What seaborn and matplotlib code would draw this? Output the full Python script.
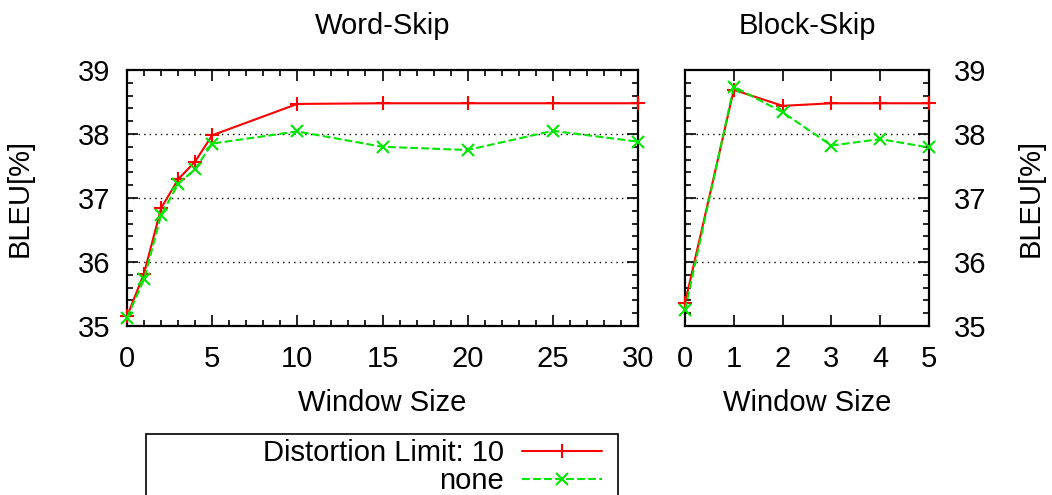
import matplotlib
matplotlib.use("Agg")
import matplotlib.pyplot as plt
import seaborn as sns
import pandas as pd
from matplotlib.patches import Rectangle
from matplotlib.ticker import MultipleLocator

ws_word = [0, 1, 2, 3, 4, 5, 10, 15, 20, 25, 30]
word_dl10 = [35.15, 35.82, 36.84, 37.29, 37.57, 37.98, 38.47, 38.48, 38.48, 38.48, 38.48]
word_none = [35.13, 35.73, 36.73, 37.22, 37.45, 37.85, 38.04, 37.80, 37.75, 38.05, 37.88]
ws_block = [0, 1, 2, 3, 4, 5]
block_dl10 = [35.36, 38.69, 38.44, 38.48, 38.48, 38.48]
block_none = [35.25, 38.74, 38.34, 37.82, 37.92, 37.79]
series_labels = ["Distortion Limit: 10", "none"]
titles = ["Word-Skip", "Block-Skip"]
y_ticks = [35, 36, 37, 38, 39]

FS = 21
sns.set_style("white")
plt.rcParams["font.family"] = ["Liberation Sans", "DejaVu Sans"]
plt.rcParams["font.size"] = FS
for k in ["text.color", "axes.labelcolor", "xtick.color", "ytick.color", "axes.edgecolor"]:
    plt.rcParams[k] = "black"

fig = plt.figure(figsize=(10.52, 4.95), dpi=100)
ax1 = fig.add_axes([127/1052, 1-326/495, (638-127)/1052, (326-70)/495])
ax2 = fig.add_axes([685/1052, 1-326/495, (929-685)/1052, (326-70)/495])

RED = "#ff0000"
GREEN = "#00e600"

def draw(ax, xs, y1, y2):
    d1 = pd.DataFrame({"x": xs, "y": y1})
    d2 = pd.DataFrame({"x": xs, "y": y2})
    sns.lineplot(data=d1, x="x", y="y", ax=ax, color=RED, marker="+", markersize=10,
                 markeredgewidth=1.5, markeredgecolor=RED, linewidth=1.5,
                 label=series_labels[0], zorder=3, clip_on=False)
    sns.lineplot(data=d2, x="x", y="y", ax=ax, color=GREEN, marker="x", markersize=8,
                 markeredgewidth=1.5, markeredgecolor=GREEN, linewidth=1.5,
                 linestyle="--", dashes=(4, 2), label=series_labels[1], zorder=4,
                 clip_on=False)
    ax.set_ylim(35, 39)
    ax.set_yticks(y_ticks)
    ax.yaxis.set_minor_locator(MultipleLocator(0.2))
    for yv in y_ticks[1:-1]:
        ax.axhline(yv, color="black", linestyle=(0, (1, 3)), linewidth=1.0, zorder=1)
    ax.tick_params(which="both", direction="in", top=True, bottom=True, left=True, right=True,
                   labelsize=FS, width=1.2, colors="black")
    ax.tick_params(which="major", length=8)
    ax.tick_params(which="minor", length=4)
    ax.tick_params(axis="x", which="major", pad=14)
    for s in ax.spines.values():
        s.set_linewidth(1.6)
        s.set_color("black")
    ax.set_xlabel("Window Size", fontsize=FS, labelpad=11)
    if ax.legend_:
        ax.legend_.remove()

draw(ax1, ws_word, word_dl10, word_none)
ax1.set_xlim(0, 30)
ax1.set_xticks([0, 5, 10, 15, 20, 25, 30])
ax1.xaxis.set_minor_locator(MultipleLocator(1))
ax1.tick_params(axis="y", which="major", pad=12)
ax1.set_ylabel("BLEU[%]", fontsize=FS, labelpad=32)
ax1.set_title(titles[0], fontsize=FS, pad=26)

draw(ax2, ws_block, block_dl10, block_none)
ax2.set_xlim(0, 5)
ax2.set_xticks(ws_block)
ax2.yaxis.tick_right()
ax2.yaxis.set_ticks_position("both")
ax2.tick_params(axis="y", which="both", labelleft=False, labelright=True)
ax2.tick_params(axis="y", which="major", pad=18)
ax2.yaxis.set_label_position("right")
ax2.set_ylabel("BLEU[%]", fontsize=FS, labelpad=22)
ax2.set_title(titles[1], fontsize=FS, pad=26)

handles, labels = ax1.get_legend_handles_labels()
fig.patches.append(Rectangle((146/1052, -0.05), (618-146)/1052, 0.05 + 1-434/495,
                             transform=fig.transFigure, fill=False, edgecolor="black",
                             linewidth=1.2, figure=fig))
fig.legend(handles, labels, loc="upper right", bbox_to_anchor=(602/1052, 1-439/495),
           frameon=False, markerfirst=False, fontsize=FS, handlelength=2.75,
           labelspacing=0.0, handletextpad=0.6, borderaxespad=0, borderpad=0.0)

fig.savefig("out.png", dpi=100)
